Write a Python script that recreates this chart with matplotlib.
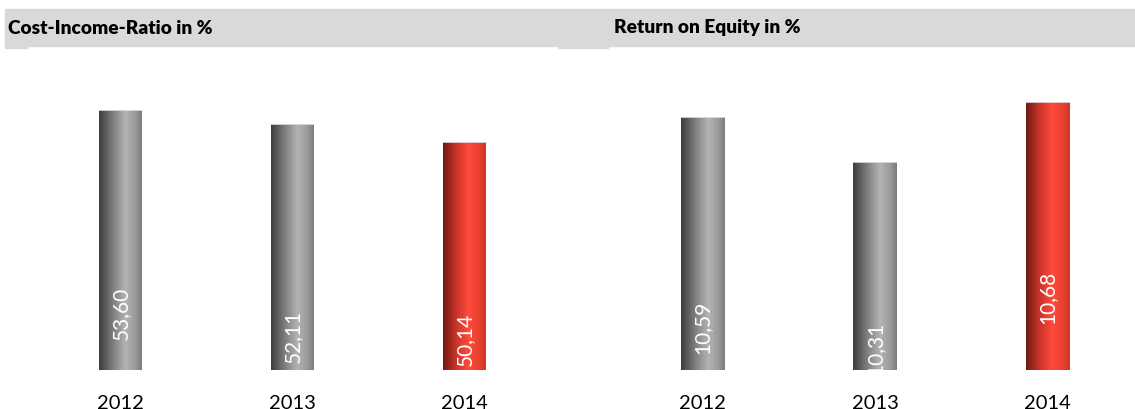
import numpy as np
import matplotlib.pyplot as plt
from matplotlib.colors import LinearSegmentedColormap
from matplotlib.patches import Rectangle

# data
years = ['2012', '2013', '2014']
cir = [53.60, 52.11, 50.14]
roe = [10.59, 10.31, 10.68]
cir_labels = ['53,60', '52,11', '50,14']
roe_labels = ['10,59', '10,31', '10,68']
titles = ['Cost-Income-Ratio in %', 'Return on Equity in %']

plt.rcParams['font.family'] = ['Lato', 'DejaVu Sans']

gray = LinearSegmentedColormap.from_list(
    'g', [(0, '#3c3c3c'), (0.3, '#7a7a7a'), (0.62, '#b4b4b4'), (0.85, '#9a9a9a'), (1, '#7c7c7c')])
red = LinearSegmentedColormap.from_list(
    'r', [(0, '#6e1a12'), (0.3, '#c8342a'), (0.6, '#ff4b3c'), (0.85, '#e8402f'), (1, '#cc3526')])

W, H = 1135, 410
fig = plt.figure(figsize=(W / 100, H / 100), dpi=100)

# grey header band
fig.patches.append(Rectangle((5 / W, (H - 47) / H), (W - 5) / W, 37 / H,
                             transform=fig.transFigure, color='#d9d9d9', zorder=0))
fig.patches.append(Rectangle((5 / W, (H - 49) / H), 22 / W, 3 / H,
                             transform=fig.transFigure, color='#d9d9d9', zorder=0))
fig.patches.append(Rectangle((558 / W, (H - 49) / H), 50 / W, 3 / H,
                             transform=fig.transFigure, color='#d9d9d9', zorder=0))
fig.text(8 / W, (H - 28) / H, titles[0], fontsize=13.8, fontweight='heavy', va='center')
fig.text(614 / W, (H - 28) / H, titles[1], fontsize=13.8, fontweight='heavy', va='center')

panels = [
    (34.5, 516, cir, cir_labels, (25.5, 59.1), [31.7, 29.2, 28.9]),
    (616, 518, roe, roe_labels, (9.012, 10.95), [9.283, 9.155, 9.47]),
]

for left, width, vals, labs, ylim, label_y in panels:
    ax = fig.add_axes([left / W, 39 / H, width / W, 311 / H])
    x = np.arange(len(years))
    vals = np.array(vals)
    bars = ax.bar(x, vals - ylim[0], width=0.25, bottom=ylim[0], color='none')
    ax.set_xlim(-0.5, 2.5)
    ax.set_ylim(*ylim)
    grad = np.linspace(0, 1, 256).reshape(1, -1)
    for i, b in enumerate(bars):
        cmap = red if i == 2 else gray
        x0 = b.get_x()
        im = ax.imshow(grad, cmap=cmap, aspect='auto',
                       extent=(x0, x0 + b.get_width(), ylim[0], vals[i]), zorder=2)
        im.set_clip_path(b)
        ax.plot([x0, x0 + b.get_width()], [vals[i], vals[i]], color='#e0e0e0', lw=0.6, zorder=3)
        ax.text(x[i], label_y[i], labs[i], rotation=90, color='white', fontsize=15,
                ha='center', va='center', zorder=4, clip_on=True)
    ax.set_xticks(x)
    ax.set_xticklabels(years, fontsize=14.5)
    ax.tick_params(length=0, pad=17)
    ax.set_yticks([])
    for s in ax.spines.values():
        s.set_visible(False)

fig.savefig('out.png', dpi=100)
